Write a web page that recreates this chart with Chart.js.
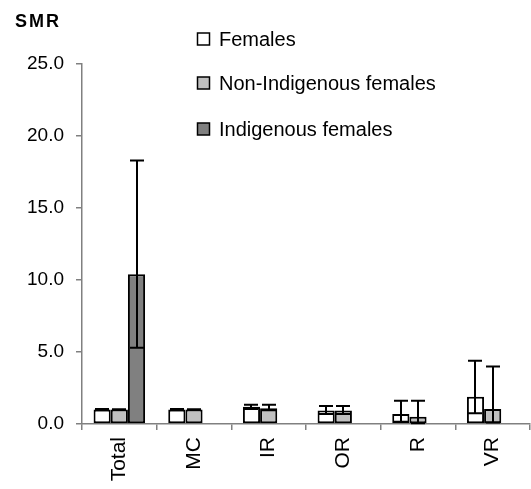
<!DOCTYPE html>
<html>
<head>
<meta charset="utf-8">
<script src="https://cdn.jsdelivr.net/npm/chart.js@4"></script>
<style>
  body { margin: 0; background: #fff; }
</style>
</head>
<body>
<canvas id="smrChart" width="531" height="489"></canvas>
<script>
// categories and series
const regions = ['Total', 'MC', 'IR', 'OR', 'R', 'VR'];
const seriesNames = ['Females', 'Non-Indigenous females', 'Indigenous females'];
const females = [1.0, 1.0, 1.2, 0.93, 0.69, 1.9];
const nonIndigenous = [1.0, 1.0, 1.1, 0.93, 0.5, 1.05];
const indigenous = [10.4, null, null, null, null, null];

// 95% confidence limits
const femalesLow = [0.96, 0.96, 1.05, 0.7, 0.15, 0.75];
const femalesHigh = [1.04, 1.04, 1.34, 1.25, 1.62, 4.4];
const nonIndigenousLow = [0.97, 0.97, 0.95, 0.7, 0.05, 0.1];
const nonIndigenousHigh = [1.03, 1.03, 1.34, 1.25, 1.62, 4.0];
const indigenousLow = [5.3, null, null, null, null, null];
const indigenousHigh = [18.3, null, null, null, null, null];

const yTicks = [0, 5, 10, 15, 20, 25];

const lows = [femalesLow, nonIndigenousLow, indigenousLow];
const highs = [femalesHigh, nonIndigenousHigh, indigenousHigh];
const fills = ['#ffffff', '#c0c0c0', '#808080'];

Chart.defaults.font.family = '"Liberation Sans", Arial, sans-serif';
Chart.defaults.color = '#000';

// error bars on top of the bars
const errorBars = {
  id: 'errorBars',
  afterDatasetsDraw(chart) {
    const ctx = chart.ctx;
    const y = chart.scales.y;
    ctx.save();
    ctx.strokeStyle = '#000';
    ctx.lineWidth = 2;
    chart.data.datasets.forEach((ds, i) => {
      const meta = chart.getDatasetMeta(i);
      meta.data.forEach((bar, j) => {
        if (ds.data[j] == null || lows[i][j] == null) return;
        const x = Math.round(bar.x);
        const top = y.getPixelForValue(highs[i][j]);
        const bot = y.getPixelForValue(lows[i][j]);
        ctx.beginPath();
        ctx.moveTo(x, top); ctx.lineTo(x, bot);
        ctx.moveTo(x - 7, top); ctx.lineTo(x + 7, top);
        ctx.moveTo(x - 7, bot); ctx.lineTo(x + 7, bot);
        ctx.stroke();
      });
    });
    ctx.restore();
  }
};

// axis title and legend inside the plot
const extras = {
  id: 'extras',
  afterDraw(chart) {
    const ctx = chart.ctx;
    ctx.save();
    ctx.fillStyle = '#000';
    ctx.textBaseline = 'middle';
    ctx.font = 'bold 18px "Liberation Sans", Arial, sans-serif';
    ctx.letterSpacing = '2px';
    ctx.fillText('SMR', 15, 22);
    ctx.letterSpacing = '0px';

    ctx.font = '20px "Liberation Sans", Arial, sans-serif';
    const rows = [39, 83, 129];
    chart.data.datasets.forEach((ds, i) => {
      ctx.fillStyle = ds.backgroundColor;
      ctx.fillRect(197.5, rows[i] - 6, 12, 12);
      ctx.strokeStyle = '#000';
      ctx.lineWidth = 1.5;
      ctx.strokeRect(197.5, rows[i] - 6, 12, 12);
      ctx.fillStyle = '#000';
      ctx.fillText(ds.label, 219, rows[i] + 1);
    });
    ctx.restore();
  }
};

new Chart(document.getElementById('smrChart'), {
  type: 'bar',
  data: {
    labels: regions,
    datasets: [females, nonIndigenous, indigenous].map((d, i) => ({
      label: seriesNames[i],
      data: d,
      backgroundColor: fills[i],
      borderColor: '#000',
      borderWidth: 2,
      borderSkipped: false,
      barPercentage: 1,
      categoryPercentage: 0.69
    }))
  },
  options: {
    responsive: false,
    animation: false,
    layout: { padding: { top: 64, right: 1, left: 0, bottom: 0 } },
    plugins: {
      legend: { display: false },
      tooltip: { enabled: false }
    },
    scales: {
      x: {
        afterFit(scale) { scale.height = 65; },
        border: { color: '#808080', width: 1.5 },
        grid: { display: true, drawOnChartArea: false, offset: true, tickLength: 6, color: '#808080', lineWidth: 1.5 },
        ticks: { minRotation: 90, maxRotation: 90, padding: 7, font: { size: 21 } }
      },
      y: {
        min: 0,
        max: 25,
        afterFit(scale) { scale.width = 82; },
        afterBuildTicks(scale) { scale.ticks = yTicks.map(v => ({ value: v })); },
        border: { color: '#808080', width: 1.5 },
        grid: { drawOnChartArea: false, tickLength: 6, color: '#808080', lineWidth: 1.5 },
        ticks: { padding: 12, font: { size: 19 }, callback: v => v.toFixed(1) }
      }
    }
  },
  plugins: [errorBars, extras]
});
</script>
</body>
</html>
